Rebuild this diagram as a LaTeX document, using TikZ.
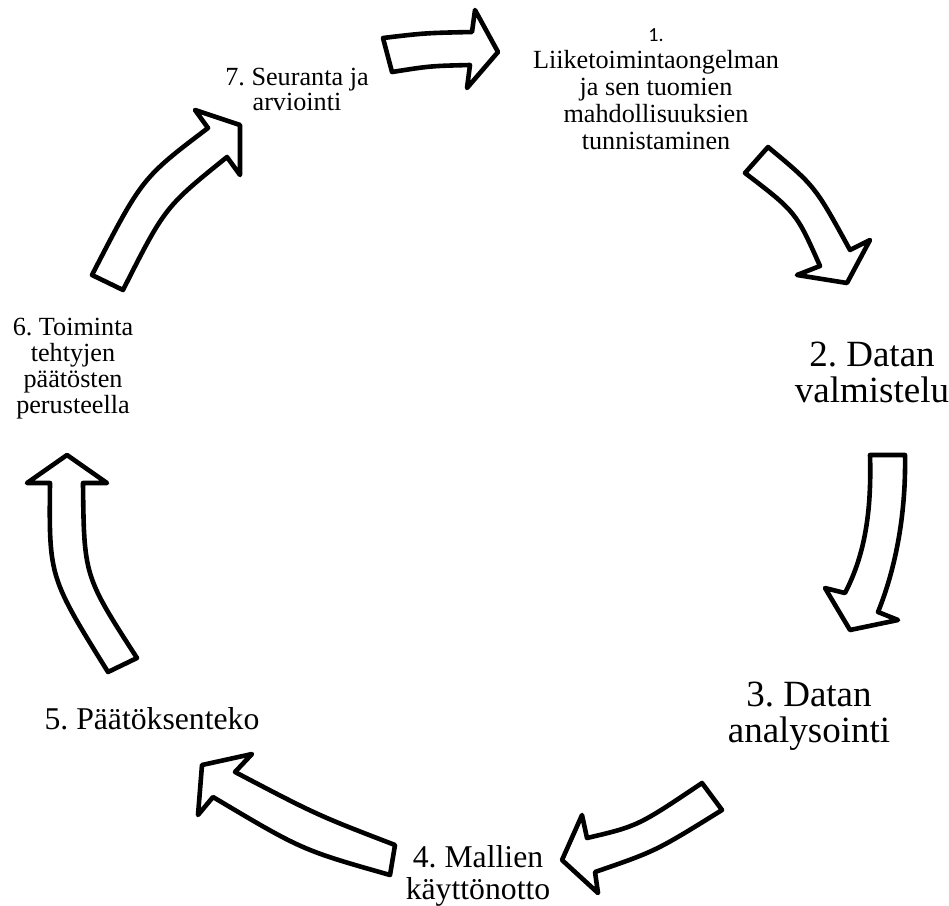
\documentclass[tikz,border=0pt]{standalone}
\usepackage{fontspec}
\setmainfont{Liberation Serif}
\newfontfamily\calibri{Carlito}
\frenchspacing

\begin{document}
\begin{tikzpicture}[x=1pt, y=-1pt, align=center, inner sep=0pt,
	blockarrow/.style={draw, line width=4.6pt, fill=white, line join=round},
	txtsmall/.style={font=\fontsize{26.2}{26}\selectfont},
	txtmid/.style={font=\fontsize{31.7}{32}\selectfont},
	txtbig/.style={font=\fontsize{37}{36}\selectfont}]
	\useasboundingbox (0,0) rectangle (949,905);
	\node[txtsmall, font=\fontsize{26.2}{27}\selectfont] (tunnistus) at (656,89) {{\calibri\fontsize{20}{27}\selectfont 1.}\\ Liiketoimintaongelman \\ ja sen tuomien \\ mahdollisuuksien \\ tunnistaminen};
	\node[txtbig] (valmistelu) at (872,372) {2. Datan \\ valmistelu};
	\node[txtbig] (analysointi) at (809,716) {3. Datan \\ analysointi};
	\node[txtmid] (kayttoonotto) at (478,876) {4. Mallien \\ käyttönotto};
	\node[txtmid] (paatos) at (152,719) {5. Päätöksenteko};
	\node[txtsmall] (toiminta) at (73,369) {6. Toiminta \\ tehtyjen \\ päätösten \\ perusteella};
	\node[txtsmall, font=\fontsize{26.2}{25}\selectfont] (seuranta) at (297,89) {7. Seuranta ja \\ arviointi};
	%%%%%%%%%%%%%
	% 7 -> 1
	\draw[blockarrow] (392,72) -- (383,38) .. controls (425,33) .. (472,32) -- (475,10) -- (498,52) -- (467,88) -- (470,65) .. controls (430,66) .. (392,72) -- cycle;
	% 1 -> 2
	\draw[blockarrow] (745,173) -- (768,147) .. controls (815,186) .. (850,250) -- (870,240) -- (847,283) -- (797,275) -- (820,266) .. controls (796,212) .. (745,173) -- cycle;
	% 2 -> 3
	\draw[blockarrow] (870,455) -- (905,455) .. controls (906,510) and (897,565) .. (878,612) -- (898,620) -- (850,630) -- (825,588) -- (845,593) .. controls (862,560) and (872,520) .. (870,455) -- cycle;
	% 3 -> 4
	\draw[blockarrow] (722,810) -- (702,783) .. controls (638,826) .. (587,838) -- (582,815) -- (562,860) -- (598,893) -- (595,872) .. controls (656,851) .. (722,810) -- cycle;
	% 4 -> 5
	\draw[blockarrow] (395,845) -- (390,875) .. controls (302,850) .. (213,797) -- (198,815) -- (202,765) -- (252,754) -- (235,772) .. controls (317,815) .. (395,845) -- cycle;
	% 5 -> 6
	\draw[blockarrow] (108,672) -- (137,658) .. controls (84,576) .. (83,483) -- (107,483) -- (67,455) -- (27,483) -- (50,483) .. controls (49,577) .. (108,672) -- cycle;
	% 6 -> 7
	\draw[blockarrow] (92,275) .. controls (142,178) .. (208,128) -- (195,110) -- (240,125) -- (240,175) -- (227,157) .. controls (165,207) .. (123,290) -- cycle;
\end{tikzpicture}
\end{document}
